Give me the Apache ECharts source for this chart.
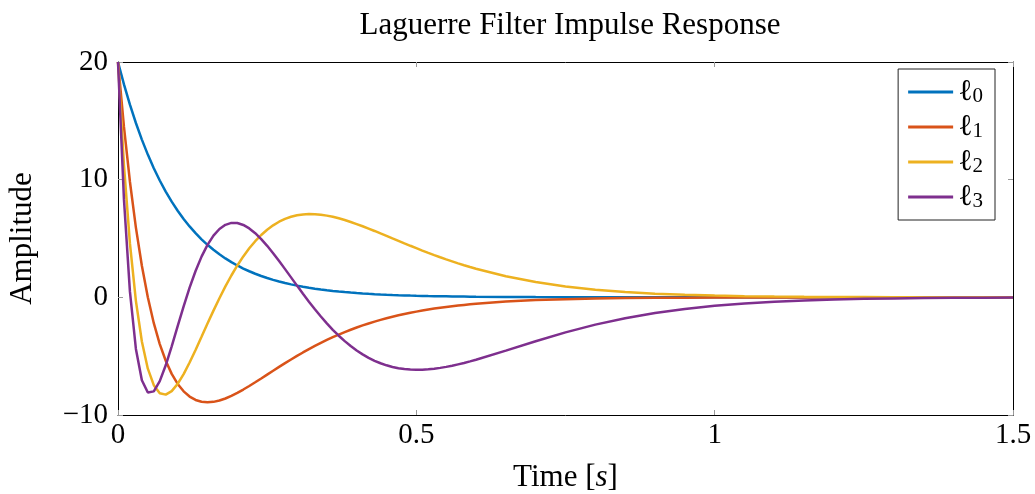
<!DOCTYPE html>
<html>
<head>
<meta charset="utf-8">
<script src="https://cdn.jsdelivr.net/npm/echarts@6/dist/echarts.min.js"></script>
<style>
html,body{margin:0;padding:0;background:#fff;}
#chart{width:1035px;height:494px;}
</style>
</head>
<body>
<div id="chart"></div>
<script>
var titleText = 'Laguerre Filter Impulse Response';
var seriesNames = ['ℓ0', 'ℓ1', 'ℓ2', 'ℓ3'];
var colors = ['#0072BD', '#D95319', '#EDB120', '#7E2F8E'];

var time = [0,0.01,0.02,0.03,0.04,0.05,0.06,0.07,0.08,0.09,
0.10,0.11,0.12,0.13,0.14,0.15,0.16,0.17,0.18,0.19,
0.20,0.21,0.22,0.23,0.24,0.25,0.26,0.27,0.28,0.29,
0.30,0.31,0.32,0.33,0.34,0.35,0.36,0.37,0.38,0.39,
0.40,0.41,0.42,0.43,0.44,0.45,0.46,0.47,0.48,0.49,
0.50,0.51,0.52,0.53,0.54,0.55,0.56,0.57,0.58,0.59,
0.60,0.65,0.70,0.75,0.80,0.85,0.90,0.95,1.00,1.05,
1.10,1.15,1.20,1.25,1.30,1.35,1.40,1.45,1.50];

var l0 = [20,18.097,16.375,14.816,13.406,12.131,10.976,9.932,8.987,8.131,
7.358,6.657,6.024,5.451,4.932,4.463,4.038,3.654,3.306,2.991,
2.707,2.449,2.216,2.005,1.814,1.642,1.486,1.344,1.216,1.101,
0.996,0.901,0.815,0.738,0.668,0.604,0.547,0.495,0.447,0.405,
0.366,0.332,0.300,0.271,0.246,0.222,0.201,0.182,0.165,0.149,
0.135,0.122,0.110,0.100,0.090,0.082,0.074,0.067,0.061,0.055,
0.050,0.030,0.018,0.011,0.007,0.004,0.002,0.0015,0.0009,0.0006,
0.0003,0.0002,0.0001,0.0001,0,0,0,0,0];

var l1 = [20,14.477,9.825,5.927,2.681,0,-2.195,-3.973,-5.392,-6.505,
-7.358,-7.989,-8.433,-8.721,-8.877,-8.925,-8.883,-8.769,-8.596,-8.376,
-8.120,-7.837,-7.535,-7.219,-6.895,-6.567,-6.239,-5.914,-5.595,-5.282,
-4.979,-4.685,-4.402,-4.131,-3.872,-3.623,-3.388,-3.165,-2.953,-2.753,
-2.564,-2.387,-2.219,-2.063,-1.915,-1.778,-1.648,-1.528,-1.416,-1.310,
-1.213,-1.121,-1.037,-0.958,-0.885,-0.817,-0.755,-0.696,-0.642,-0.592,
-0.546,-0.361,-0.237,-0.155,-0.101,-0.065,-0.042,-0.027,-0.017,-0.011,
-0.007,-0.0045,-0.0028,-0.0018,-0.0011,-0.0007,-0.0004,-0.0003,-0.0002];

var l2 = [20,11.220,4.585,-0.296,-3.754,-6.065,-7.464,-8.144,-8.268,-7.969,
-7.358,-6.524,-5.542,-4.469,-3.354,-2.231,-1.131,-0.073,0.926,1.855,
2.707,3.478,4.166,4.772,5.298,5.746,6.120,6.425,6.665,6.845,
6.970,7.046,7.076,7.067,7.022,6.945,6.842,6.715,6.568,6.404,
6.227,6.040,5.842,5.640,5.430,5.222,5.009,4.799,4.589,4.381,
4.179,3.976,3.781,3.591,3.406,3.227,3.058,2.889,2.732,2.577,
2.430,1.789,1.295,0.924,0.651,0.454,0.313,0.215,0.146,0.099,
0.067,0.045,0.030,0.020,0.013,0.009,0.006,0.004,0.002];

var l3 = [20,8.300,0.480,-4.386,-7.043,-8.087,-7.991,-7.124,-5.775,-4.163,
-2.453,-0.763,0.819,2.238,3.459,4.463,5.244,5.807,6.162,6.326,
6.316,6.152,5.856,5.449,4.950,4.378,3.751,3.086,2.397,1.696,
0.996,0.305,-0.367,-1.015,-1.632,-2.214,-2.759,-3.262,-3.724,-4.142,
-4.518,-4.851,-5.142,-5.393,-5.602,-5.777,-5.914,-6.019,-6.093,-6.135,
-6.156,-6.145,-6.115,-6.064,-5.995,-5.910,-5.816,-5.699,-5.582,-5.446,
-5.307,-4.530,-3.727,-2.976,-2.319,-1.772,-1.330,-0.985,-0.719,-0.520,
-0.372,-0.264,-0.186,-0.130,-0.090,-0.062,-0.043,-0.029,-0.020];

var xTicks = [0, 0.5, 1, 1.5];
var yTicks = [-10, 0, 10, 20];

var FONT = '"Liberation Serif", "DejaVu Serif", serif';
var FS = 29;
var FN = 31;

function pairs(vals) {
  return time.map(function (t, i) { return [t, vals[i]]; });
}
var allSeries = [l0, l1, l2, l3];

var chart = echarts.init(document.getElementById('chart'), null, {renderer: 'canvas'});

var tickStyle = {show: true, inside: true, length: 5, lineStyle: {color: '#999', width: 1}};
var axisLineStyle = {show: true, onZero: false, lineStyle: {color: '#000', width: 1}};

var option = {
  animation: false,
  backgroundColor: '#fff',
  title: {
    text: titleText,
    left: 565, textAlign: 'center',
    top: 5,
    textStyle: {fontFamily: FONT, fontSize: FN, fontWeight: 'normal', color: '#000'}
  },
  grid: {left: 118, right: 22, top: 62, bottom: 79, containLabel: false, outerBoundsMode: 'none'},
  legend: {
    orient: 'vertical',
    right: 40, top: 69,
    padding: [8, 12, 8, 10],
    itemGap: 5,
    itemWidth: 45, itemHeight: 3,
    icon: 'rect',
    backgroundColor: '#fff',
    borderColor: '#222', borderWidth: 1, borderRadius: 0,
    data: seriesNames.map(function (n, i) {
      return {name: n, icon: 'rect', itemStyle: {color: colors[i], borderWidth: 0}};
    }),
    formatter: function (name) {
      return '{a|ℓ}{b|' + name.slice(1) + '}';
    },
    textStyle: {
      fontFamily: FONT, color: '#000',
      rich: {
        a: {fontFamily: FONT, fontSize: 30, lineHeight: 30, color: '#000'},
        b: {fontFamily: FONT, fontSize: 21, lineHeight: 18, verticalAlign: 'bottom', color: '#000'}
      }
    }
  },
  xAxis: [{
    type: 'value', min: 0, max: 1.5, interval: 0.5,
    position: 'bottom',
    name: '{n|Time [}{i|s}{n|]}',
    nameLocation: 'middle', nameGap: 47,
    nameTextStyle: {
      fontFamily: FONT, fontSize: FN, color: '#000',
      rich: {
        n: {fontFamily: FONT, fontSize: FN, color: '#000'},
        i: {fontFamily: FONT, fontSize: FN, fontStyle: 'italic', color: '#000'}
      }
    },
    axisLine: axisLineStyle,
    axisTick: tickStyle,
    splitLine: {show: false},
    axisLabel: {fontFamily: FONT, fontSize: FS, color: '#000', margin: 6,
      formatter: function (v) { return String(v); }}
  }, {
    type: 'value', min: 0, max: 1.5, interval: 0.5,
    position: 'top',
    axisLine: axisLineStyle,
    axisTick: tickStyle,
    splitLine: {show: false},
    axisLabel: {show: false}
  }],
  yAxis: [{
    type: 'value', min: -10, max: 20, interval: 10,
    position: 'left',
    name: 'Amplitude',
    nameLocation: 'middle', nameGap: 80,
    nameTextStyle: {fontFamily: FONT, fontSize: FN, color: '#000'},
    axisLine: axisLineStyle,
    axisTick: tickStyle,
    splitLine: {show: false},
    axisLabel: {fontFamily: FONT, fontSize: FS, color: '#000', margin: 10,
      formatter: function (v) { return v < 0 ? '\u2212' + Math.abs(v) : String(v); }}
  }, {
    type: 'value', min: -10, max: 20, interval: 10,
    position: 'right',
    axisLine: axisLineStyle,
    axisTick: tickStyle,
    splitLine: {show: false},
    axisLabel: {show: false}
  }],
  series: allSeries.map(function (vals, i) {
    return {
      name: seriesNames[i],
      type: 'line',
      xAxisIndex: 0, yAxisIndex: 0,
      data: pairs(vals),
      symbol: 'none',
      smooth: false,
      clip: true,
      lineStyle: {color: colors[i], width: 2.5},
      itemStyle: {color: colors[i]}
    };
  })
};
chart.setOption(option);
</script>
</body>
</html>
